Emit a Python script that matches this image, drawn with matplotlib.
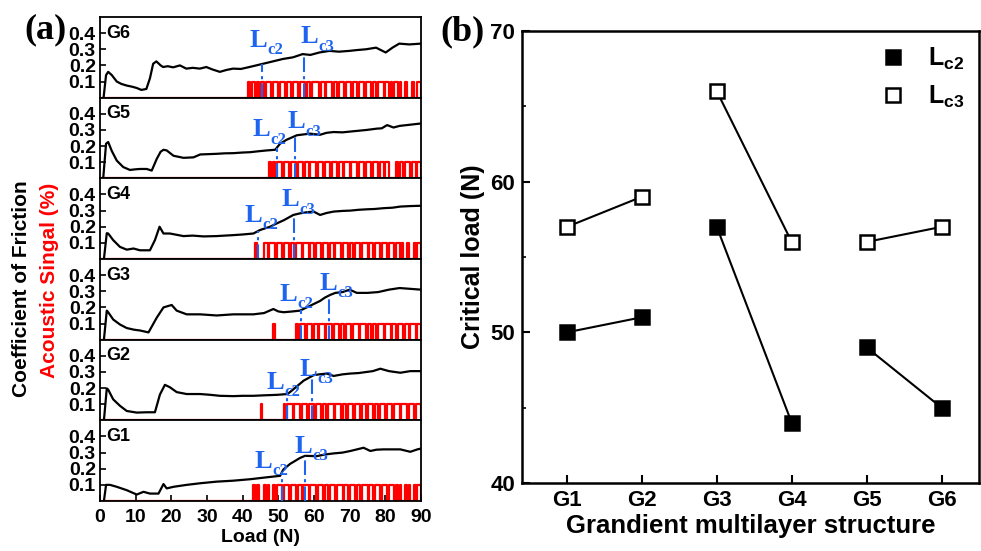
import matplotlib
matplotlib.use("Agg")
import matplotlib.pyplot as plt
import matplotlib.transforms as mtransforms
from matplotlib.lines import Line2D
import numpy as np

plt.rcParams['font.family'] = 'Liberation Sans'
plt.rcParams['font.weight'] = 'bold'
plt.rcParams['axes.labelweight'] = 'bold'
plt.rcParams['mathtext.fontset'] = 'custom'
plt.rcParams['mathtext.rm'] = 'Liberation Serif:bold'
plt.rcParams['mathtext.bf'] = 'Liberation Serif:bold'
plt.rcParams['mathtext.sf'] = 'Liberation Sans:bold'

# ---- panel (a): friction coefficient vs load ----
samples = ['G6', 'G5', 'G4', 'G3', 'G2', 'G1']

g6_points = [(1.0, 0.0), (1.7, 0.14), (2.3, 0.16), (3.3, 0.14), (4.7, 0.10), (6.0, 0.085),
             (7.5, 0.075), (9.0, 0.068), (10.3, 0.06), (11.6, 0.048), (13.0, 0.054), (14.0, 0.12),
             (14.9, 0.21), (15.8, 0.225), (17.0, 0.20), (17.7, 0.19), (19.0, 0.195), (20.5, 0.188),
             (22.4, 0.20), (24.2, 0.18), (26.0, 0.185), (28.0, 0.18), (29.8, 0.19), (31.5, 0.175),
             (33.6, 0.16), (35.5, 0.172), (37.3, 0.18), (39.5, 0.178), (41.9, 0.19), (43.8, 0.20),
             (45.7, 0.21), (48.5, 0.225), (51.3, 0.24), (54.1, 0.25), (56.8, 0.27), (59.0, 0.265),
             (61.5, 0.28), (64.3, 0.29), (67.0, 0.285), (69.9, 0.29), (72.0, 0.295), (74.6, 0.30),
             (77.4, 0.31), (80.1, 0.28), (82.0, 0.31), (83.9, 0.335), (86.7, 0.33), (90.0, 0.335)]
g5_points = [(0.9, 0.0), (1.7, 0.215), (2.3, 0.225), (3.3, 0.17), (4.7, 0.11), (6.5, 0.07),
             (8.4, 0.052), (10.0, 0.056), (11.2, 0.058), (13.1, 0.058), (14.5, 0.048), (15.9, 0.12),
             (17.0, 0.165), (17.8, 0.177), (18.7, 0.173), (20.6, 0.14), (23.4, 0.127), (26.2, 0.13),
             (28.1, 0.148), (30.5, 0.15), (32.7, 0.152), (35.0, 0.155), (37.4, 0.156), (40.0, 0.16),
             (42.1, 0.162), (44.5, 0.168), (46.8, 0.173), (49.1, 0.177), (50.5, 0.215), (52.4, 0.24),
             (55.2, 0.267), (57.0, 0.272), (58.9, 0.277), (61.7, 0.27), (63.5, 0.282), (65.5, 0.287),
             (68.0, 0.285), (70.2, 0.29), (72.5, 0.295), (74.8, 0.30), (77.6, 0.308), (79.0, 0.31),
             (80.5, 0.33), (82.3, 0.315), (84.0, 0.325), (86.0, 0.33), (88.0, 0.335), (90.0, 0.34)]
g4_points = [(1.1, 0.0), (1.9, 0.16), (2.3, 0.158), (3.7, 0.117), (5.6, 0.075), (7.5, 0.058),
             (9.4, 0.065), (11.2, 0.054), (14.0, 0.054), (15.4, 0.117), (16.7, 0.20), (17.8, 0.158),
             (19.6, 0.158), (21.5, 0.15), (23.4, 0.142), (26.0, 0.145), (29.0, 0.14), (32.7, 0.142),
             (35.0, 0.145), (37.4, 0.148), (40.0, 0.152), (43.0, 0.158), (44.9, 0.18), (47.7, 0.20),
             (49.5, 0.22), (51.5, 0.24), (54.2, 0.273), (56.1, 0.283), (58.0, 0.29), (59.9, 0.294),
             (61.7, 0.273), (63.5, 0.285), (65.5, 0.294), (68.0, 0.298), (70.2, 0.30), (72.5, 0.305),
             (74.8, 0.308), (77.0, 0.31), (79.5, 0.315), (82.0, 0.318), (84.2, 0.325), (87.0, 0.328),
             (90.0, 0.33)]
g3_points = [(1.1, 0.0), (1.9, 0.18), (2.3, 0.17), (3.7, 0.125), (5.6, 0.094), (7.5, 0.072),
             (9.5, 0.062), (11.2, 0.057), (13.6, 0.045), (15.9, 0.136), (17.8, 0.20), (20.1, 0.215),
             (21.5, 0.18), (24.3, 0.157), (28.1, 0.157), (32.7, 0.15), (37.4, 0.157), (43.0, 0.157),
             (46.0, 0.165), (48.6, 0.19), (50.0, 0.175), (51.5, 0.17), (54.0, 0.175), (56.1, 0.18),
             (58.9, 0.21), (61.7, 0.24), (63.0, 0.26), (64.5, 0.277), (66.0, 0.29), (68.0, 0.295),
             (70.0, 0.31), (72.0, 0.29), (75.0, 0.29), (78.0, 0.295), (81.0, 0.31), (84.0, 0.32),
             (87.0, 0.315), (90.0, 0.31)]
g2_points = [(1.1, 0.0), (1.9, 0.198), (2.3, 0.19), (3.7, 0.13), (5.6, 0.09), (7.5, 0.058),
             (10.3, 0.048), (13.1, 0.05), (15.4, 0.05), (16.8, 0.16), (18.2, 0.22), (19.6, 0.205),
             (21.5, 0.175), (24.3, 0.163), (28.1, 0.163), (31.0, 0.158), (33.6, 0.152), (37.4, 0.15),
             (40.0, 0.152), (43.0, 0.152), (46.0, 0.155), (49.6, 0.158), (52.6, 0.163), (54.3, 0.194),
             (57.1, 0.246), (59.9, 0.28), (61.5, 0.285), (63.6, 0.29), (65.5, 0.275), (68.0, 0.285),
             (70.2, 0.29), (72.5, 0.293), (74.8, 0.30), (76.5, 0.305), (78.6, 0.32), (81.0, 0.305),
             (84.2, 0.295), (87.0, 0.305), (90.0, 0.305)]
g1_points = [(1.1, 0.0), (1.7, 0.10), (2.8, 0.10), (4.7, 0.088), (7.5, 0.067), (10.3, 0.04),
             (12.2, 0.057), (14.0, 0.046), (16.4, 0.046), (17.8, 0.105), (18.7, 0.078), (20.6, 0.088),
             (24.3, 0.10), (28.1, 0.11), (32.7, 0.12), (37.4, 0.126), (42.1, 0.135), (46.8, 0.147),
             (50.5, 0.156), (51.4, 0.195), (53.3, 0.23), (56.1, 0.267), (57.5, 0.28), (60.8, 0.278),
             (63.0, 0.288), (65.5, 0.295), (68.0, 0.30), (70.2, 0.31), (73.9, 0.33), (75.8, 0.31),
             (77.5, 0.318), (79.5, 0.32), (82.0, 0.32), (84.2, 0.32), (87.0, 0.305), (89.0, 0.32),
             (90.0, 0.325)]

# acoustic signal, one char per 0.5 N starting at 40 N ('1' = signal on)
ae_g6 = ("0001011010" "1101110111" "0111011011" "1011101101" "1110110111"
         "0110111011" "1011011101" "1101101110" "1101011010" "0100010011")
ae_g5 = ("0000000000" "0000010101" "1101110111" "0111011011" "1011101110"
         "1110110111" "0111011101" "1101110110" "1100001011" "0111011011")
ae_g4 = ("0000000100" "0011011101" "1101110110" "1110111011" "0111011101"
         "1011101110" "1101110111" "0110111011" "1011101101" "0010001011")
ae_g3 = ("0000000000" "0000000100" "0000000000" "1011101110" "1101110111"
         "0111011011" "1011101110" "1101101110" "1110110111" "0110111011")
ae_g2 = ("0000000000" "1000000000" "0001011101" "1101110111" "0111011011"
         "1011101101" "1101110110" "1110110111" "0111011101" "1101110111")
ae_g1 = ("0000001010" "0010100101" "1101110111" "0110111011" "1011101101"
         "1101110110" "1110110111" "0110111011" "1011101010" "0101001011")

# critical loads marked in panel (a) (G6 ... G1)
lc2_marks = [45.3, 49.6, 44.2, 56.4, 52.3, 51.1]
lc3_marks = [57.3, 54.8, 54.5, 64.3, 59.4, 57.6]

# ---- panel (b) ----
groups = ['G1', 'G2', 'G3', 'G4', 'G5', 'G6']
lc2 = [50, 51, 57, 44, 49, 45]
lc3 = [57, 59, 66, 56, 56, 57]

curves = [g6_points, g5_points, g4_points, g3_points, g2_points, g1_points]
signals = [ae_g6, ae_g5, ae_g4, ae_g3, ae_g2, ae_g1]
# label anchors (load, baseline height) for the L_c2 / L_c3 annotations
lc2_text = [(41.9, 0.316), (42.8, 0.26), (40.5, 0.23), (50.3, 0.24), (46.6, 0.196), (43.3, 0.204)]
lc3_text = [(56.3, 0.337), (52.6, 0.31), (50.8, 0.326), (61.5, 0.31), (55.9, 0.277), (54.5, 0.297)]

blue = '#1E64F0'
W, H = 981, 551
fig = plt.figure(figsize=(W / 100, H / 100), dpi=100)


def lc_label(ax, xy, sub):
    ax.text(xy[0], xy[1], 'L', color=blue, fontsize=19, family='Liberation Serif',
            fontweight='bold', ha='left', va='baseline')
    tr = mtransforms.offset_copy(ax.transData, fig=fig, x=12.8, y=-5.2, units='points')
    ax.text(xy[0], xy[1], sub, color=blue, fontsize=12, family='Liberation Serif',
            fontweight='bold', ha='left', va='baseline', transform=tr)


gs = fig.add_gridspec(6, 1, left=100 / W, right=421 / W, top=1 - 17 / H, bottom=1 - 501 / H, hspace=0)
axes_a = []
for i, name in enumerate(samples):
    ax = fig.add_subplot(gs[i])
    axes_a.append(ax)
    pts = np.array(curves[i])
    pat = signals[i]
    sx = [0.0] + [40.0 + 0.5 * k for k in range(len(pat))] + [90.0]
    sy = [0.0] + [0.1 if c == '1' else 0.0 for c in pat] + [0.0]
    ax.plot(sx, sy, color='red', lw=1.6, drawstyle='steps-post', zorder=2)
    ax.plot(pts[:, 0], pts[:, 1], color='black', lw=1.6, zorder=3)
    for xm in (lc2_marks[i], lc3_marks[i]):
        top = np.interp(xm, pts[:, 0], pts[:, 1])
        ax.plot([xm, xm], [0, top], color=blue, lw=1.5, ls=(0, (7, 2, 1.5, 2)), zorder=4)
    lc_label(ax, lc2_text[i], 'c2')
    lc_label(ax, lc3_text[i], 'c3')
    ax.text(1.7, 0.4, name, fontsize=13, fontweight='bold', ha='left', va='center')
    ax.set_xlim(0, 90)
    ax.set_ylim(0, 0.5)
    ax.set_yticks([0.1, 0.2, 0.3, 0.4])
    ax.set_yticklabels(['0.1', '0.2', '0.3', '0.4'])
    ax.set_xticks(np.arange(0, 91, 10))
    ax.tick_params(direction='in', length=4, width=1.2, labelsize=14, pad=3)
    if i < 5:
        ax.tick_params(axis='x', bottom=False, labelbottom=False)
    for s in ax.spines.values():
        s.set_linewidth(1.3)

axes_a[-1].set_xlabel('Load (N)', fontsize=14, labelpad=2)
axes_a[-1].tick_params(axis='x', pad=6)

fig.text(22 / W, 1 - 180 / H, 'Coefficient of Friction', rotation=90, ha='center', va='top',
         fontsize=15, fontweight='bold', color='black')
fig.text(50 / W, 1 - 183 / H, 'Acoustic Singal (%)', rotation=90, ha='center', va='top',
         fontsize=15, fontweight='bold', color='red')

# panel (b)
axb = fig.add_axes([522 / W, 1 - 483 / H, (979 - 522) / W, (483 - 31) / H])
xpos = np.arange(1, len(groups) + 1)
for a in range(0, len(groups), 2):
    sl = slice(a, a + 2)
    axb.plot(xpos[sl], lc3[sl], color='black', lw=1.5, marker='s', ms=10,
             mfc='white', mec='black', mew=1.8, zorder=3)
    axb.plot(xpos[sl], lc2[sl], color='black', lw=1.5, marker='s', ms=10,
             mfc='black', mec='black', mew=1.8, zorder=3)
axb.set_xlim(0.4, 6.5)
axb.set_ylim(40, 70)
axb.set_xticks(xpos)
axb.set_xticklabels(groups)
axb.set_yticks([40, 50, 60, 70])
axb.set_yticks([45, 55, 65], minor=True)
axb.tick_params(direction='in', length=6, width=1.5, labelsize=16, pad=5)
axb.tick_params(which='minor', direction='in', length=3, width=1.2)
axb.set_ylabel('Critical load (N)', fontsize=18, labelpad=4)
axb.set_xlabel('Grandient multilayer structure', fontsize=18.5, labelpad=2)
for s in axb.spines.values():
    s.set_linewidth(1.8)

handles = [Line2D([], [], ls='none', marker='s', ms=10, mfc='black', mec='black', mew=1.8),
           Line2D([], [], ls='none', marker='s', ms=10, mfc='white', mec='black', mew=1.8)]
axb.legend(handles, [r'$\mathsf{L_{c2}}$', r'$\mathsf{L_{c3}}$'], loc='upper right', frameon=False,
           fontsize=18, handlelength=1.0, handletextpad=0.9, labelspacing=0.45, borderaxespad=0.2)

fig.text(45 / W, 1 - 30 / H, '(a)', fontsize=26, fontweight='bold', family='Liberation Serif',
         ha='center', va='center')
fig.text(462 / W, 1 - 32 / H, '(b)', fontsize=26, fontweight='bold', family='Liberation Serif',
         ha='center', va='center')

fig.savefig('out.png', dpi=100)
